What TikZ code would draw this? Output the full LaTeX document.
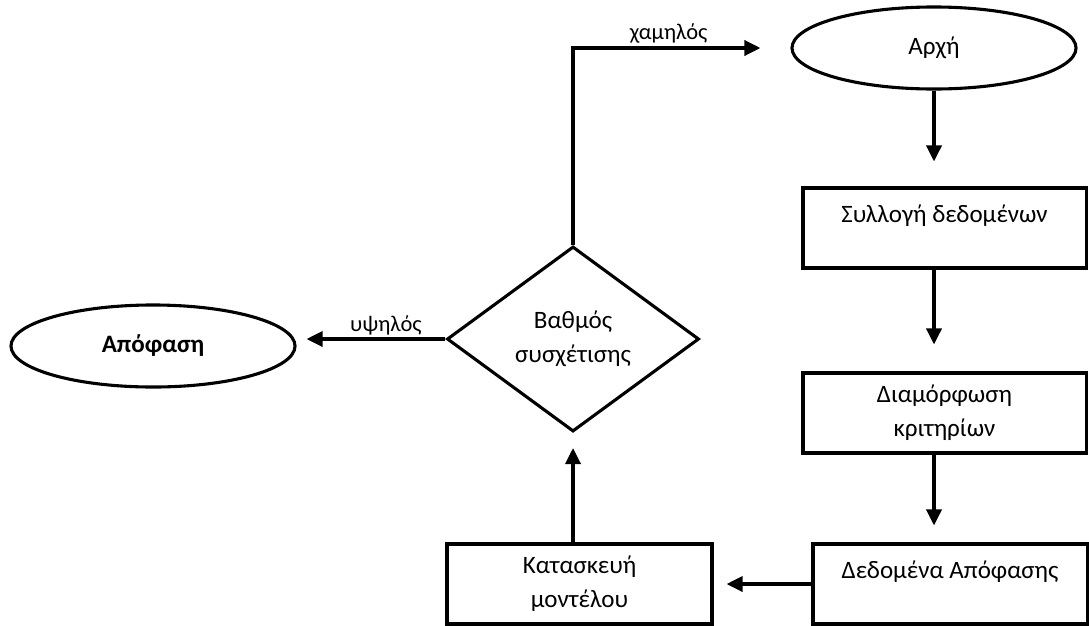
\documentclass[tikz,border=0pt]{standalone}
\usepackage{fontspec}
\setmainfont{Carlito}
\usetikzlibrary{shapes.geometric,arrows.meta}

\begin{document}
\begin{tikzpicture}[x=0.025cm,y=-0.025cm,
    every node/.style={font=\fontsize{17.8}{24}\selectfont},
    box/.style={draw, line width=2.2pt, rectangle, minimum height=2cm, align=center},
    topbox/.style={box, text depth=0.74cm},
    oval/.style={draw, line width=2.2pt, ellipse, minimum width=7.1cm, minimum height=2.05cm},
    arr/.style={line width=2.2pt, -{Triangle[length=0.4cm,width=0.38cm]}},
    lbl/.style={font=\fontsize{16}{18}\selectfont, inner sep=2pt}]

    % Fix the page to the size of the picture
    \useasboundingbox (0,0) rectangle (1089,625);

    % Start and end
    \node[oval] (start) at (934,48) {Αρχή};
    \node[oval, font=\fontsize{17.8}{24}\selectfont\bfseries] (decision) at (153,346) {Απόφαση};

    % Steps down the right side
    \node[topbox, minimum width=7.075cm] (collect) at (944.5,228) {Συλλογή δεδομένων};
    \node[box, minimum width=7.075cm] (criteria) at (944.5,413) {Διαμόρφωση\\κριτηρίων};
    \node[topbox, minimum width=6.85cm] (data) at (950,584) {Δεδομένα Απόφασης};

    % Model and test
    \node[box, minimum width=6.625cm] (model) at (579.5,584) {Κατασκευή\\μοντέλου};
    \node[draw, line width=2.2pt, diamond, aspect=1.36, minimum width=6.3cm,
          minimum height=4.625cm, align=center] (grade) at (573,339) {Βαθμός\\συσχέτισης};

    % Arrows down the right side
    \draw[arr, shorten >=0.625cm] (start.south) -- (start.south |- collect.north);
    \draw[arr, shorten >=0.675cm] (start.south |- collect.south) -- (start.south |- criteria.north);
    \draw[arr, shorten >=0.425cm] (start.south |- criteria.south) -- (start.south |- data.north);

    % Across and up to the test
    \draw[arr, shorten >=0.325cm] (data.west) -- (model.east);
    \draw[arr, shorten >=0.375cm] (grade.south |- model.north) -- (grade.south);

    % The two ways out of the test
    \draw[arr, shorten >=0.25cm] (grade.west) -- (grade.west -| decision.east)
        node[lbl, above, pos=0.4] {υψηλός};
    \draw[arr, shorten >=0.75cm] (grade.north) |- (start.west)
        node[lbl, above, pos=0.72] {χαμηλός};

\end{tikzpicture}
\end{document}
